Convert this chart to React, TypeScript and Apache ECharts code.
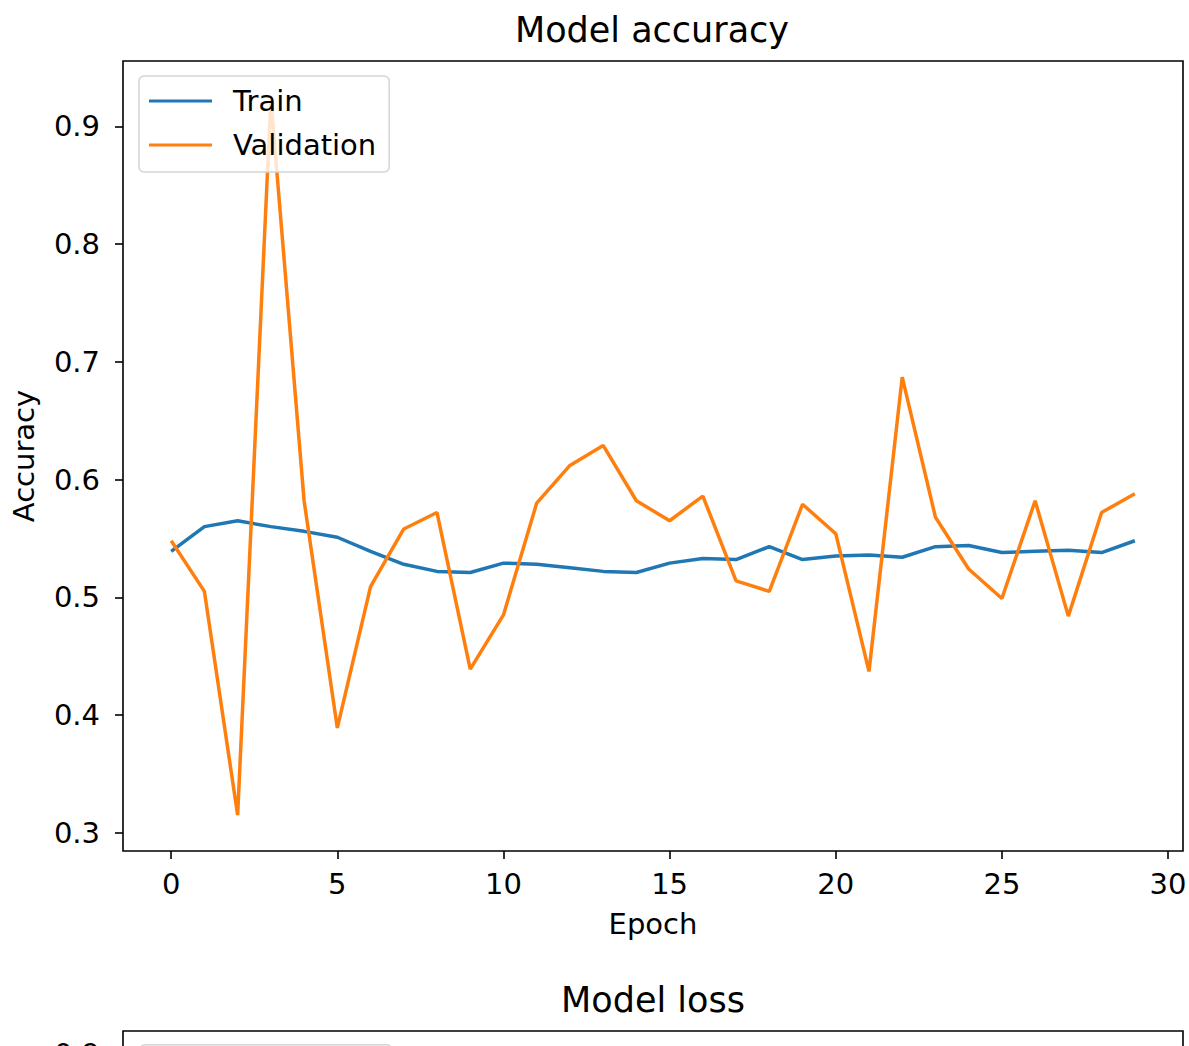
import React, { useEffect, useRef } from "react";
import * as echarts from "echarts";

const epochs = Array.from({ length: 30 }, (_, i) => i);
const trainAcc = [
  0.539, 0.56, 0.565, 0.56, 0.556, 0.551, 0.539, 0.528, 0.522, 0.521,
  0.529, 0.528, 0.525, 0.522, 0.521, 0.529, 0.533, 0.532, 0.543, 0.532,
  0.535, 0.536, 0.534, 0.543, 0.544, 0.538, 0.539, 0.54, 0.538, 0.548,
];
const valAcc = [
  0.548, 0.505, 0.315, 0.923, 0.582, 0.389, 0.509, 0.558, 0.572, 0.439,
  0.485, 0.58, 0.612, 0.629, 0.582, 0.565, 0.586, 0.514, 0.505, 0.579,
  0.554, 0.437, 0.687, 0.568, 0.524, 0.499, 0.582, 0.484, 0.572, 0.588,
];
const xTicks = [0, 5, 10, 15, 20, 25, 30];
const yTicks = [0.3, 0.4, 0.5, 0.6, 0.7, 0.8, 0.9];
const lossYTicks = [0.9];

const FONT = "DejaVu Sans";

export default function App() {
  const ref = useRef<HTMLDivElement>(null);
  useEffect(() => {
    if (!ref.current) return;
    const chart = echarts.init(ref.current, undefined, { renderer: "svg" });
    const axisTick = {
      show: true,
      length: 8,
      inside: false,
      lineStyle: { color: "#000", width: 1.6 },
    };
    const axisLine = { show: false, onZero: false };
    const labelStyle = { fontFamily: FONT, fontSize: 29, color: "#000" };
    const titleStyle = { fontFamily: FONT, fontSize: 35, fontWeight: "normal", color: "#000" };
    const gridCommon = {
      left: 123,
      width: 1060,
      height: 790,
      show: true,
      borderColor: "#000",
      borderWidth: 1.6,
      containLabel: false,
      outerBoundsMode: "none",
    };
    chart.setOption({
      animation: false,
      backgroundColor: "#fff",
      title: [
        { text: "Model accuracy", left: 647, textAlign: "center", top: 7, textStyle: titleStyle },
        { text: "Model loss", left: 648, textAlign: "center", top: 977, textStyle: titleStyle },
      ],
      legend: {
        orient: "vertical",
        left: 139,
        top: 76,
        padding: [9, 13, 11, 10],
        itemWidth: 63,
        itemHeight: 3,
        itemGap: 12,
        icon: "rect",
        backgroundColor: "rgba(255,255,255,0.8)",
        borderColor: "#d4d4d4",
        borderWidth: 1.5,
        borderRadius: 5,
        textStyle: {
          fontFamily: FONT,
          fontSize: 29,
          color: "#000",
          lineHeight: 32,
          padding: [0, 0, 0, 16],
        },
        data: ["Train", "Validation"],
      },
      graphic: [
        {
          type: "rect",
          left: 139,
          top: 1044,
          shape: { width: 252, height: 96, r: 5 },
          style: { fill: "rgba(255,255,255,0.8)", stroke: "#d4d4d4", lineWidth: 1.5 },
          z: 10,
        },
      ],
      grid: [
        { ...gridCommon, top: 61 },
        { ...gridCommon, top: 1031 },
      ],
      xAxis: [
        {
          type: "value",
          gridIndex: 0,
          min: -1.45,
          max: 30.45,
          splitLine: { show: false },
          axisLine,
          axisTick: { ...axisTick, customValues: xTicks },
          axisLabel: { ...labelStyle, margin: 18, customValues: xTicks },
          name: "Epoch",
          nameLocation: "middle",
          nameGap: 58,
          nameTextStyle: labelStyle,
        },
        {
          type: "value",
          gridIndex: 1,
          min: -1.45,
          max: 30.45,
          splitLine: { show: false },
          axisLine,
          axisTick: { ...axisTick, customValues: xTicks },
          axisLabel: { show: false },
        },
      ],
      yAxis: [
        {
          type: "value",
          gridIndex: 0,
          min: 0.2845,
          max: 0.9555,
          splitLine: { show: false },
          axisLine,
          axisTick: { ...axisTick, customValues: yTicks },
          axisLabel: {
            ...labelStyle,
            margin: 23,
            customValues: yTicks,
            formatter: (v: number) => v.toFixed(1),
          },
          name: "Accuracy",
          nameLocation: "middle",
          nameGap: 85,
          nameTextStyle: labelStyle,
        },
        {
          type: "value",
          gridIndex: 1,
          min: 0,
          max: 0.927,
          splitLine: { show: false },
          axisLine,
          axisTick: { ...axisTick, customValues: lossYTicks },
          axisLabel: {
            ...labelStyle,
            margin: 23,
            customValues: lossYTicks,
            formatter: (v: number) => v.toFixed(1),
          },
        },
      ],
      series: [
        {
          name: "Train",
          type: "line",
          xAxisIndex: 0,
          yAxisIndex: 0,
          data: epochs.map((e, i) => [e, trainAcc[i]]),
          showSymbol: false,
          symbol: "none",
          lineStyle: { color: "#1f77b4", width: 3.5 },
          itemStyle: { color: "#1f77b4" },
        },
        {
          name: "Validation",
          type: "line",
          xAxisIndex: 0,
          yAxisIndex: 0,
          data: epochs.map((e, i) => [e, valAcc[i]]),
          showSymbol: false,
          symbol: "none",
          lineStyle: { color: "#ff7f0e", width: 3.5 },
          itemStyle: { color: "#ff7f0e" },
        },
      ],
    });
    return () => chart.dispose();
  }, []);
  return (
    <div
      ref={ref}
      style={{ position: "fixed", left: 0, top: 0, width: 1189, height: 1046 }}
    />
  );
}
